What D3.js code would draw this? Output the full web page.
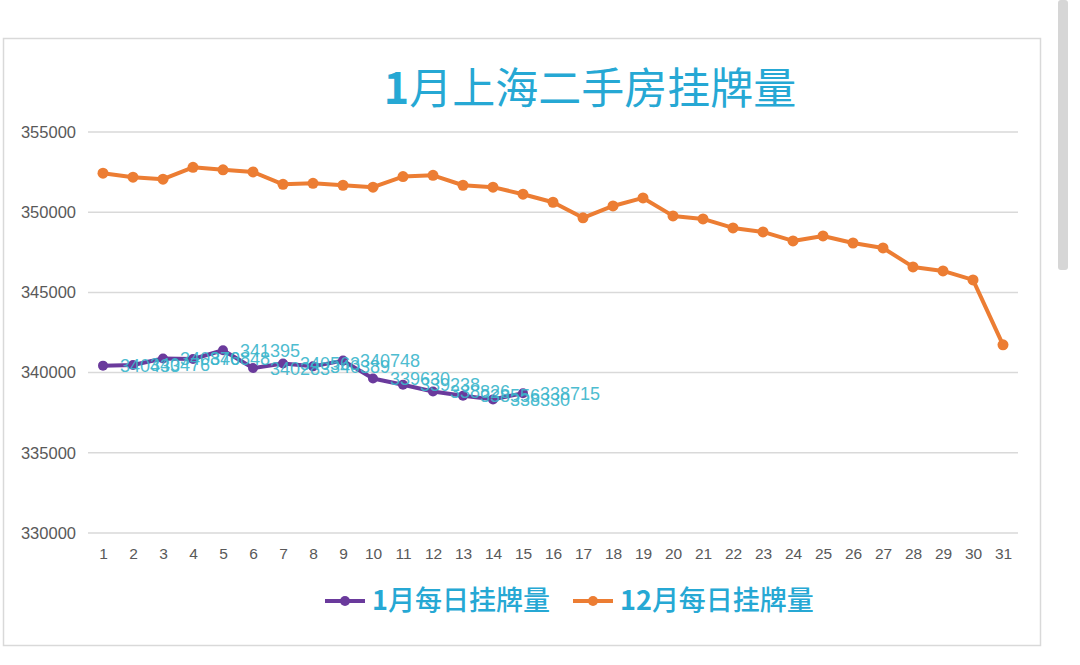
<!DOCTYPE html>
<html>
<head>
<meta charset="utf-8">
<script src="https://d3js.org/d3.v7.min.js"></script>
<style>
  body { margin: 0; background: #fff; }
  svg { display: block; }
</style>
</head>
<body>
<div id="chart"></div>
<script>
// days of the month on the category axis
const days = d3.range(1, 32).map(String);
// January daily listings (1-15)
const janValues = [340433, 340476, 340876, 340848, 341395, 340283, 340563, 340389, 340748,
    339630, 339238, 338826, 338556, 338330, 338715];
// December daily listings (1-31)
const decValues = [352430, 352180, 352060, 352800, 352640, 352510, 351740, 351800, 351680,
    351560, 352220, 352300, 351680, 351560, 351120, 350620, 349650, 350390, 350890, 349770,
    349580, 349020, 348770, 348210, 348520, 348080, 347770, 346590, 346340, 345780, 341730];
const yTicks = [330000, 335000, 340000, 345000, 350000, 355000];
const seriesNames = ["1月每日挂牌量", "12月每日挂牌量"];
const title = "1月上海二手房挂牌量";

const width = 1080, height = 665;
const purple = "#6a3a9c", orange = "#ec7d33", cyan = "#26a8d4", labelCyan = "#3ab6cc";

const svg = d3.select("#chart")
    .append("svg")
    .attr("width", width)
    .attr("height", height);

// scrollbar thumb on the right of the page
svg.append("rect")
    .attr("x", 1058).attr("y", 0)
    .attr("width", 10).attr("height", 270)
    .attr("rx", 3)
    .attr("fill", "#d6d6d6");

// chart card
svg.append("rect")
    .attr("x", 3.5).attr("y", 38.5)
    .attr("width", 1037).attr("height", 607)
    .attr("fill", "#fff")
    .attr("stroke", "#d9d9d9")
    .attr("stroke-width", 1.5);

const x = d3.scalePoint()
    .domain(days)
    .range([88, 1018])
    .padding(0.5);

const y = d3.scaleLinear()
    .domain([330000, 355000])
    .range([533, 132]);

// gridlines
svg.append("g")
    .selectAll("line")
    .data(yTicks)
    .join("line")
    .attr("x1", 88).attr("x2", 1018)
    .attr("y1", d => y(d)).attr("y2", d => y(d))
    .attr("stroke", "#d9d9d9")
    .attr("stroke-width", 1.5);

// y axis labels
const yAxis = svg.append("g")
    .attr("transform", "translate(76,0)")
    .call(d3.axisLeft(y).tickValues(yTicks).tickSize(0).tickPadding(0).tickFormat(d3.format("d")));
yAxis.select(".domain").remove();
yAxis.selectAll("text")
    .attr("font-family", "Liberation Sans, Arial, sans-serif")
    .attr("font-size", 16.5)
    .attr("fill", "#595959");

// x axis labels
const xAxis = svg.append("g")
    .attr("transform", "translate(0,545)")
    .call(d3.axisBottom(x).tickSize(0).tickPadding(3));
xAxis.select(".domain").remove();
xAxis.selectAll("text")
    .attr("font-family", "Liberation Sans, Arial, sans-serif")
    .attr("font-size", 15.5)
    .attr("fill", "#595959");

const line = d3.line()
    .x((d, i) => x(days[i]))
    .y(d => y(d));

// December series
svg.append("path")
    .datum(decValues)
    .attr("d", line)
    .attr("fill", "none")
    .attr("stroke", orange)
    .attr("stroke-width", 4)
    .attr("stroke-linejoin", "round");
svg.append("g")
    .selectAll("circle")
    .data(decValues)
    .join("circle")
    .attr("cx", (d, i) => x(days[i]))
    .attr("cy", d => y(d))
    .attr("r", 5.5)
    .attr("fill", orange);

// January series
svg.append("path")
    .datum(janValues)
    .attr("d", line)
    .attr("fill", "none")
    .attr("stroke", purple)
    .attr("stroke-width", 4)
    .attr("stroke-linejoin", "round");
svg.append("g")
    .selectAll("circle")
    .data(janValues)
    .join("circle")
    .attr("cx", (d, i) => x(days[i]))
    .attr("cy", d => y(d))
    .attr("r", 5)
    .attr("fill", purple);

// January data labels, to the right of each point
svg.append("g")
    .selectAll("text")
    .data(janValues)
    .join("text")
    .attr("x", (d, i) => x(days[i]) + 17)
    .attr("y", d => y(d))
    .attr("dy", "0.36em")
    .attr("font-family", "Liberation Sans, Arial, sans-serif")
    .attr("font-size", 18)
    .attr("fill", labelCyan)
    .attr("opacity", 0.9)
    .text(d => d);

// title
const t = svg.append("text")
    .attr("x", 590).attr("y", 104)
    .attr("text-anchor", "middle")
    .attr("font-family", "Noto Sans CJK SC, sans-serif")
    .attr("font-size", 43)
    .attr("font-weight", 400)
    .attr("fill", cyan);
t.append("tspan").attr("font-weight", 700).text(title.slice(0, 1));
t.append("tspan").text(title.slice(1));

// legend
const legend = svg.append("g").attr("font-family", "Noto Sans CJK SC, sans-serif");
const legendItems = [
    { name: seriesNames[0], color: purple, x: 325 },
    { name: seriesNames[1], color: orange, x: 573 }
];
legendItems.forEach(item => {
    const g = legend.append("g").attr("transform", `translate(${item.x},601)`);
    g.append("line")
        .attr("x1", 0).attr("x2", 40)
        .attr("stroke", item.color).attr("stroke-width", 4);
    g.append("circle").attr("cx", 20).attr("r", 5).attr("fill", item.color);
    const txt = g.append("text")
        .attr("x", 47).attr("dy", "0.35em")
        .attr("font-size", 27)
        .attr("font-weight", 500)
        .attr("fill", cyan);
    txt.append("tspan").attr("font-weight", 700).text(item.name.match(/^\d+/)[0]);
    txt.append("tspan").text(item.name.replace(/^\d+/, ""));
});
</script>
</body>
</html>
